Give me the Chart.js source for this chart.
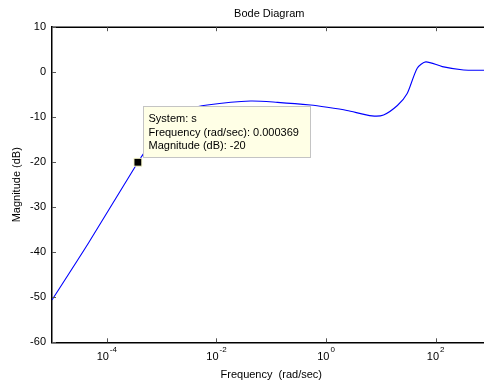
<!DOCTYPE html>
<html>
<head>
<meta charset="utf-8">
<script src="https://cdn.jsdelivr.net/npm/chart.js@4"></script>
<style>
  html, body { margin: 0; padding: 0; background: #fff; overflow: hidden; width: 484px; height: 383px; }
  #wrap { position: relative; width: 500px; height: 383px; }
</style>
</head>
<body>
<div id="wrap"><canvas id="c" width="500" height="383"></canvas></div>
<script>
// Magnitude response of system s
const freq = [1.0e-5, 4.6e-5, 3.69e-4, 6.3e-4, 1.0e-3, 1.6e-3, 3.2e-3, 6.8e-3, 0.042, 0.13, 0.52, 1.05, 2.4, 6.9, 11.2, 20, 30, 46, 66, 132, 324, 760, 1000];
const magnitude = [-50.6, -38.0, -20.0, -15.8, -12.5, -10.2, -8.2, -7.3, -6.4, -6.7, -7.3, -7.8, -8.5, -9.7, -9.5, -7.4, -4.8, 0.9, 2.3, 1.25, 0.5, 0.44, 0.43];

// Data cursor
const cursorFreq = [0.000369];
const cursorMag = [-20];
const cursorLines = ['System: s', 'Frequency (rad/sec): 0.000369', 'Magnitude (dB): -20'];

// Axes
const plotTitle = 'Bode Diagram';
const xMin = 1e-5, xMax = 1e3;
const xLabelExponents = [-4, -2, 0, 2];
const yMin = -60, yMax = 10, yStep = 10;

const FONT = 'Arial, "Liberation Sans", sans-serif';

const bodePlugin = {
  id: 'bode',
  afterDatasetDraw(chart, args) {
    if (args.index !== 0) return;
    // data tip box, drawn over the curve and under the cursor marker
    const ctx = chart.ctx;
    const px = chart.scales.x.getPixelForValue(cursorFreq[0]);
    const py = chart.scales.y.getPixelForValue(cursorMag[0]);
    const w = 167, h = 51;
    const bx = Math.round(px + 5) + 0.5, by = Math.round(py - 5 - h) + 0.5;
    ctx.save();
    ctx.fillStyle = '#ffffe6';
    ctx.strokeStyle = '#c4c4c4';
    ctx.lineWidth = 1;
    ctx.fillRect(bx, by, w, h);
    ctx.strokeRect(bx, by, w, h);
    ctx.fillStyle = '#000';
    ctx.font = '11px ' + FONT;
    ctx.textBaseline = 'middle';
    ctx.textAlign = 'left';
    cursorLines.forEach((t, i) => ctx.fillText(t, bx + 5, by + 12.5 + i * 13.7));
    ctx.restore();
  },
  afterDraw(chart) {
    const ctx = chart.ctx;
    const a = chart.chartArea;
    const xs = chart.scales.x, ys = chart.scales.y;
    ctx.save();
    // title centred over the axes
    ctx.fillStyle = '#000';
    ctx.font = '11px ' + FONT;
    ctx.textAlign = 'center';
    ctx.textBaseline = 'middle';
    ctx.fillText(plotTitle, (a.left + a.right) / 2 - 2, 14);
    // top frame line
    ctx.strokeStyle = '#000';
    ctx.lineWidth = 1.5;
    ctx.beginPath();
    ctx.moveTo(a.left, a.top);
    ctx.lineTo(a.right, a.top);
    ctx.stroke();
    // inward tick marks
    ctx.strokeStyle = '#555';
    ctx.lineWidth = 1;
    xLabelExponents.forEach(e => {
      const x = Math.round(xs.getPixelForValue(Math.pow(10, e))) + 0.5;
      ctx.beginPath();
      ctx.moveTo(x, a.top); ctx.lineTo(x, a.top + 4);
      ctx.moveTo(x, a.bottom); ctx.lineTo(x, a.bottom - 4);
      ctx.stroke();
    });
    for (let v = yMin; v <= yMax; v += yStep) {
      const y = Math.round(ys.getPixelForValue(v)) + 0.5;
      ctx.beginPath();
      ctx.moveTo(a.left, y); ctx.lineTo(a.left + 4, y);
      ctx.stroke();
    }
    // decade labels with superscript exponents
    ctx.fillStyle = '#000';
    ctx.textBaseline = 'middle';
    ctx.textAlign = 'left';
    xLabelExponents.forEach(e => {
      const x = xs.getPixelForValue(Math.pow(10, e));
      const base = '10', exp = e < 0 ? '-' + Math.abs(e) : String(e);
      ctx.font = '11px ' + FONT;
      const wb = ctx.measureText(base).width;
      ctx.font = '8px ' + FONT;
      const we = ctx.measureText(exp).width;
      const start = x - (wb + 1 + we) / 2;
      ctx.font = '11px ' + FONT;
      ctx.fillText(base, start, a.bottom + 15);
      ctx.font = '8px ' + FONT;
      ctx.fillText(exp, start + wb + 1, a.bottom + 7);
    });
    ctx.restore();
  }
};

new Chart(document.getElementById('c'), {
  type: 'line',
  data: {
    datasets: [
      {
        data: freq.map((f, i) => ({ x: f, y: magnitude[i] })),
        borderColor: '#0000ff',
        borderWidth: 1.1,
        pointRadius: 0,
        tension: 0.25,
        fill: false,
        order: 1
      },
      {
        data: cursorFreq.map((f, i) => ({ x: f, y: cursorMag[i] })),
        showLine: false,
        pointStyle: 'rect',
        pointRadius: 5.6,
        pointBackgroundColor: '#000',
        pointBorderColor: '#ffffd0',
        pointBorderWidth: 1,
        order: 0
      }
    ]
  },
  options: {
    responsive: false,
    devicePixelRatio: 1,
    animation: false,
    layout: { padding: { left: 0, right: 9.5, top: 27.2, bottom: 0 } },
    plugins: {
      legend: { display: false },
      tooltip: { enabled: false },
      title: { display: false }
    },
    scales: {
      x: {
        type: 'logarithmic',
        position: 'bottom',
        min: xMin,
        max: xMax,
        grid: { display: false, drawTicks: false },
        border: { display: true, color: '#000', width: 1.5 },
        ticks: { display: false },
        title: {
          display: true,
          text: 'Frequency  (rad/sec)',
          color: '#000',
          font: { family: FONT, size: 11 },
          padding: { top: 0, bottom: 1.4 }
        },
        afterFit(s) { s.height = 40.7; }
      },
      y: {
        min: yMin,
        max: yMax,
        grid: { display: false, drawTicks: false },
        border: { display: true, color: '#000', width: 1.5 },
        ticks: { stepSize: yStep, color: '#000', font: { family: FONT, size: 11 }, padding: 6 },
        title: {
          display: true,
          text: 'Magnitude (dB)',
          color: '#000',
          font: { family: FONT, size: 11 },
          padding: { top: 10.4, bottom: 0 }
        },
        afterFit(s) { s.width = 52; }
      }
    }
  },
  plugins: [bodePlugin]
});
</script>
</body>
</html>
